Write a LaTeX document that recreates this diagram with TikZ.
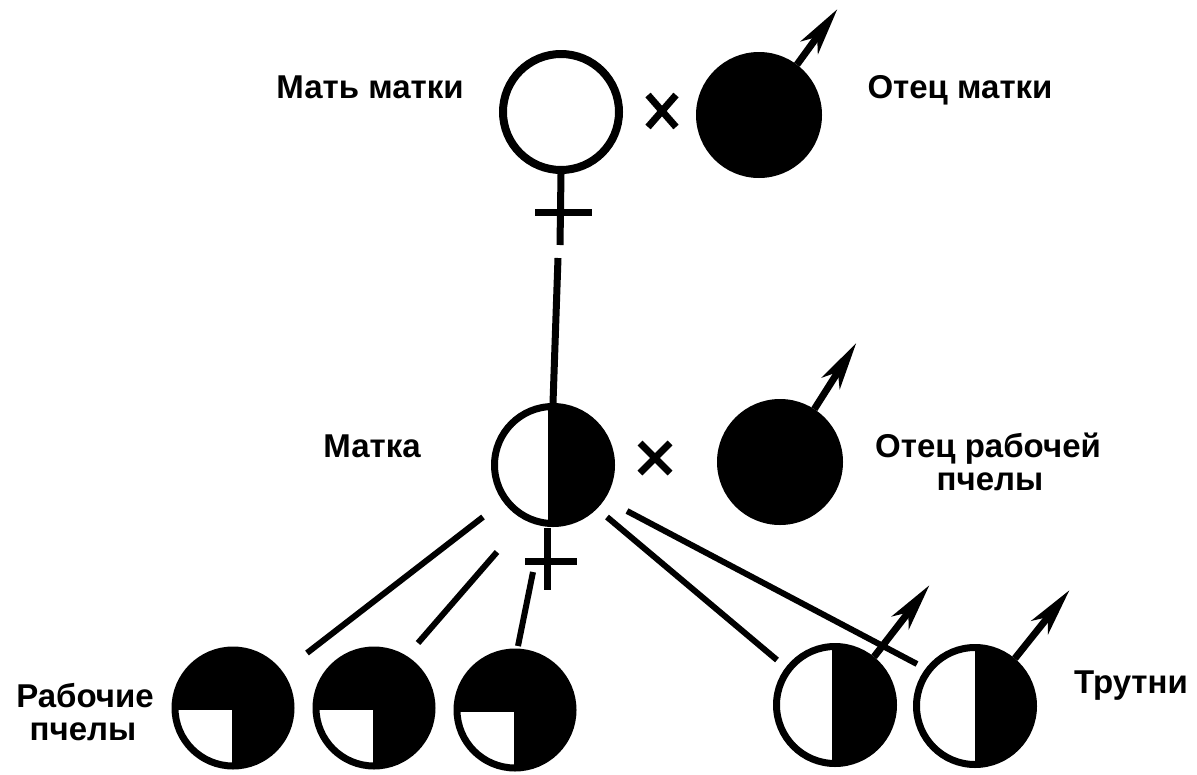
\documentclass[tikz,border=0pt]{standalone}
\usepackage{fontspec}
\setmainfont{Liberation Sans}
\usetikzlibrary{calc}
\newcommand\maleArrow[2]{%
  \draw[shaft] (#1) -- ($(#2)!28pt!(#1)$);
  \fill ($(#2)!-2pt!(#1)$) -- ($($(#2)!46pt!(#1)$)!11pt!90:(#2)$) -- ($(#2)!32pt!(#1)$)
        -- ($($(#2)!46pt!(#1)$)!11pt!-90:(#2)$) -- cycle;}
\begin{document}
\begin{tikzpicture}[x=1pt,y=-1pt,
  lbl/.style={font=\fontsize{33}{35}\selectfont\bfseries, anchor=base, inner sep=0pt},
  ring/.style={circle, draw, line width=8pt, fill=white, minimum size=116pt, inner sep=0pt},
  solid/.style={circle, draw, line width=7pt, fill=black, minimum size=119pt, inner sep=0pt},
  half/.style={circle, draw, line width=7pt, fill=white, minimum size=117pt, inner sep=0pt,
     path picture={\fill[black] ([xshift=#1]path picture bounding box.north) rectangle (path picture bounding box.south east);}},
  worker/.style={circle, draw, line width=7pt, fill=black, minimum size=116pt, inner sep=0pt,
     path picture={\fill[white] ([xshift=-1pt,yshift=-2pt]path picture bounding box.center) rectangle ([xshift=-80pt,yshift=-80pt]path picture bounding box.center);}},
  stem/.style={line width=7pt},
  link/.style={line width=6pt},
  cross/.style={line width=7pt},
  shaft/.style={line width=7pt}
]
\useasboundingbox (0,0) rectangle (1197,774);

% --- nodes
\node[ring] (qm) at (561,112) {};
\node[solid] (f1) at (759,115) {};
\node[half=-5pt] (m) at (553,465) {};
\node[solid] (f2) at (780,462) {};
\node[worker] (w1) at (233,708) {};
\node[worker] (w2) at (374,708) {};
\node[worker] (w3) at (515,710) {};
\node[half=-3pt] (d1) at (835,705) {};
\node[half=0pt] (d2) at (975,706) {};

% --- labels
\node[lbl] (t1) at (370,98) {Мать матки};
\node[lbl] (t2) at (960,98) {Отец матки};
\node[lbl] (t3) at (372,457) {Матка};
\node[lbl] (t4) at (988,457) {Отец рабочей};
\node[lbl] (t5) at (990,490) {пчелы};
\node[lbl] (t6) at (85,707) {Рабочие};
\node[lbl] (t7) at (83,740) {пчелы};
\node[lbl] (t8) at (1131,693) {Трутни};

% --- female symbol of queen's mother
\coordinate (qs) at (560,245);
\coordinate (qg) at (558,258);
\draw[stem] (qm.south) -- (qs);
\draw[stem] (535,212) -- (592,212);
\draw[stem] (qg) -- (m.north);

% --- female symbol of queen
\coordinate (mt) at (547,528);
\coordinate (ms) at (547,590);
\draw[stem] (mt) -- (ms);
\draw[stem] (525,561) -- (577,561);

% --- crosses
\draw[cross] (648,95) -- (676,127) (648,127) -- (676,95);
\draw[cross] (640,443) -- (670,473) (640,473) -- (670,443);

% --- male arrows
\coordinate (a1) at (836,11);
\coordinate (a2) at (855,345);
\coordinate (a3) at (928,587);
\coordinate (a4) at (1068,592);
\coordinate (s1) at (f1.53.6);
\coordinate (s2) at (f2.57.3);
\coordinate (s3) at (d1.51.8);
\coordinate (s4) at (d2.50.8);
\maleArrow{s1}{a1}
\maleArrow{s2}{a2}
\maleArrow{s3}{a3}
\maleArrow{s4}{a4}

% --- descent lines
\coordinate (l1a) at (483,517); \coordinate (l1b) at (307,653);
\coordinate (l2a) at (497,552); \coordinate (l2b) at (418,643);
\coordinate (l3a) at (533,572); \coordinate (l3b) at (518,646);
\coordinate (l4a) at (607,517); \coordinate (l4b) at (777,660);
\coordinate (l5a) at (627,511); \coordinate (l5b) at (917,664);
\draw[link] (l1a) -- (l1b);
\draw[link] (l2a) -- (l2b);
\draw[link] (l3a) -- (l3b);
\draw[link] (l4a) -- (l4b);
\draw[link] (l5a) -- (l5b);
\end{tikzpicture}
\end{document}
